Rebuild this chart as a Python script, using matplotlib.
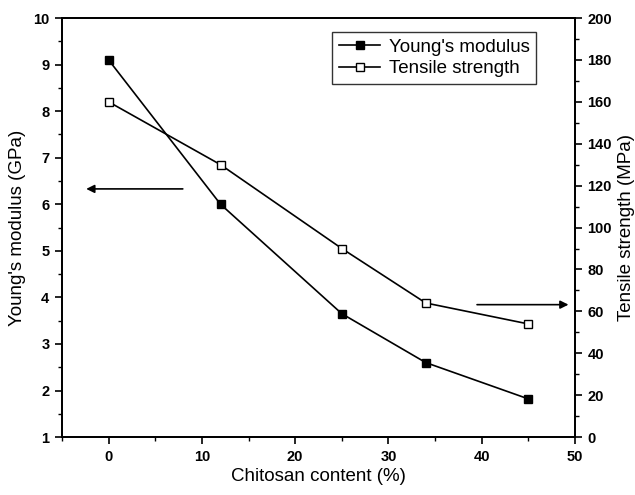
import matplotlib
matplotlib.use("Agg")
import matplotlib.pyplot as plt
from matplotlib.ticker import MultipleLocator

plt.rcParams['font.family'] = ['Liberation Sans', 'DejaVu Sans']

chitosan = [0, 12, 25, 34, 45]
youngs_modulus = [9.1, 6.0, 3.65, 2.6, 1.82]
tensile_strength = [160, 130, 90, 64, 54]

fig = plt.figure(figsize=(6.35, 4.95), dpi=100)
ax = fig.add_axes([0.0976, 0.117, 0.8079, 0.8466])
ax2 = ax.twinx()

l1, = ax.plot(chitosan, youngs_modulus, '-s', color='black', mfc='black', mec='black',
              ms=6, lw=1.2, label="Young's modulus")
l2, = ax2.plot(chitosan, tensile_strength, '-s', color='black', mfc='white', mec='black',
               ms=6, lw=1.2, label="Tensile strength")

ax.set_xlim(-5, 50)
ax.set_ylim(1, 10)
ax2.set_ylim(0, 200)

ax.xaxis.set_major_locator(MultipleLocator(10))
ax.xaxis.set_minor_locator(MultipleLocator(5))
ax.yaxis.set_major_locator(MultipleLocator(1))
ax.yaxis.set_minor_locator(MultipleLocator(0.5))
ax2.yaxis.set_major_locator(MultipleLocator(20))
ax2.yaxis.set_minor_locator(MultipleLocator(10))

for a in (ax, ax2):
    a.tick_params(which='major', direction='out', length=5, width=1.2, labelsize=10.5, pad=4)
    a.tick_params(which='minor', direction='out', length=3, width=1.0)
    for s in a.spines.values():
        s.set_linewidth(1.3)
    for lab in a.get_xticklabels() + a.get_yticklabels():
        lab.set_fontweight('bold')

ax.set_xlabel('Chitosan content (%)', fontsize=13.5, labelpad=3)
ax.set_ylabel("Young's modulus (GPa)", fontsize=13.5, labelpad=5)
ax2.set_ylabel('Tensile strength (MPa)', fontsize=13.5, labelpad=4)

ax.annotate('', xy=(-2.7, 6.33), xytext=(8.25, 6.33),
            arrowprops=dict(arrowstyle='-|>', color='black', lw=1.2, mutation_scale=12))
ax2.annotate('', xy=(49.6, 63.2), xytext=(39.2, 63.2),
             arrowprops=dict(arrowstyle='-|>', color='black', lw=1.2, mutation_scale=12))

leg = ax.legend(handles=[l1, l2], loc='upper right', bbox_to_anchor=(0.924, 0.967),
                fontsize=13.5, frameon=True, fancybox=False, edgecolor='black',
                handlelength=2.2, borderpad=0.35, labelspacing=0.25, handletextpad=0.45,
                borderaxespad=0.0, markerscale=0.85)
leg.get_frame().set_linewidth(1.0)
for lab in leg.get_texts():
    lab.set_fontweight('normal')

fig.savefig('out.png', dpi=100)
